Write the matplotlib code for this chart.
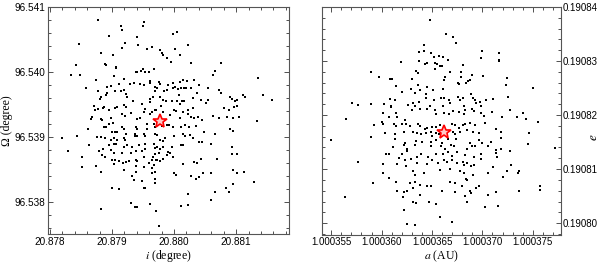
import matplotlib
matplotlib.use('Agg')
import matplotlib.pyplot as plt
from matplotlib.ticker import MultipleLocator, FormatStrFormatter
import numpy as np

plt.rcParams['mathtext.fontset'] = 'stix'

# left panel: inclination i and node Omega (degree)
# i = 20.878 + i_off * 1e-5
i_off = [78, 114, 116, 151, 150, 95, 198, 205, 47, 121,
         141, 142, 164, 157, 177, 180, 182, 201, 222, 116,
         83, 102, 209, 189, 195, 228, 276, 89, 91, 106,
         107, 42, 150, 34, 49, 138, 141, 147, 154, 159,
         167, 266, 263, 104, 120, 74, 336, 58, 92, 98,
         111, 129, 136, 145, 151, 161, 162, 175, 178, 190,
         199, 209, 215, 221, 232, 227, 240, 255, 273, 78,
         92, 90, 105, 114, 119, 122, 125, 169, 172, 170,
         184, 188, 198, 202, 207, 212, 216, 220, 208, 230,
         237, 255, 276, 290, 294, 298, 301, 315, 311, 343,
         357, 80, 83, 71, 72, 77, 85, 88, 96, 105,
         108, 119, 123, 134, 149, 161, 162, 166, 177, 182,
         187, 197, 205, 209, 213, 216, 222, 230, 243, 252,
         281, 289, 296, 302, 295, 305, 333, 66, 68, 61,
         82, 84, 99, 96, 101, 116, 121, 130, 140, 145,
         152, 154, 161, 164, 169, 171, 179, 182, 193, 200,
         203, 210, 215, 222, 227, 232, 238, 245, 263, 272,
         285, 88, 91, 100, 105, 108, 116, 119, 122, 138,
         141, 156, 157, 167, 169, 172, 180, 188, 192, 199,
         212, 217, 224, 235, 225, 248, 266, 290, 295, 20,
         43, 63, 76, 83, 89, 99, 103, 108, 119, 121,
         137, 137, 141, 152, 153, 169, 172, 177, 182, 186,
         200, 214, 218, 230, 240, 245, 260, 51, 51, 30,
         79, 86, 95, 99, 103, 107, 119, 125, 133, 144,
         154, 154, 167, 169, 173, 177, 183, 190, 196, 212,
         215, 188, 193, 170, 176, 166, 149, 138, 131, 116,
         104, 84, 89, 100, 105, 111, 118, 123, 128, 138,
         141, 151, 164, 167, 171, 173, 182, 177, 199, 214,
         232, 237, 243, 270, 294, 293, 302, 75, 103, 119,
         138, 139, 152, 160, 164, 165, 169, 200, 203, 228,
         235, 240, 247, 260, 295, 302, 312, 328, 83, 133,
         136, 148, 169, 100, 112, 152, 153, 169, 266, 289,
         284, 295, 223, 259, 83, 130, 137, 141, 162, 171,
         212, 222, 175]
node = [96.54080, 96.54071, 96.54064, 96.54077, 96.54071, 96.54056, 96.54058, 96.54061, 96.54043, 96.54044,
        96.54054, 96.54042, 96.54038, 96.54036, 96.54034, 96.54029, 96.54026, 96.54036, 96.54042, 96.54037,
        96.54029, 96.54026, 96.54026, 96.54021, 96.54016, 96.54014, 96.54014, 96.54012, 96.54011, 96.54008,
        96.54006, 96.54010, 96.54005, 96.53996, 96.53995, 96.54000, 96.54000, 96.54001, 96.54000, 96.54000,
        96.54004, 96.54001, 96.53996, 96.53994, 96.53989, 96.53988, 96.53991, 96.53976, 96.53977, 96.53979,
        96.53982, 96.53981, 96.53983, 96.53981, 96.53980, 96.53986, 96.53983, 96.53985, 96.53982, 96.53980,
        96.53983, 96.53985, 96.53988, 96.53986, 96.53988, 96.53975, 96.53980, 96.53975, 96.53972, 96.53971,
        96.53968, 96.53965, 96.53970, 96.53971, 96.53973, 96.53966, 96.53962, 96.53977, 96.53975, 96.53971,
        96.53971, 96.53973, 96.53975, 96.53977, 96.53974, 96.53975, 96.53975, 96.53975, 96.53965, 96.53960,
        96.53968, 96.53957, 96.53967, 96.53962, 96.53959, 96.53955, 96.53957, 96.53962, 96.53964, 96.53964,
        96.53957, 96.53958, 96.53961, 96.53948, 96.53942, 96.53943, 96.53944, 96.53946, 96.53942, 96.53944,
        96.53946, 96.53949, 96.53946, 96.53956, 96.53951, 96.53954, 96.53959, 96.53961, 96.53962, 96.53957,
        96.53956, 96.53956, 96.53955, 96.53951, 96.53956, 96.53955, 96.53942, 96.53945, 96.53957, 96.53952,
        96.53944, 96.53942, 96.53946, 96.53948, 96.53930, 96.53931, 96.53924, 96.53928, 96.53931, 96.53913,
        96.53928, 96.53926, 96.53930, 96.53920, 96.53921, 96.53936, 96.53932, 96.53937, 96.53928, 96.53930,
        96.53939, 96.53943, 96.53936, 96.53939, 96.53942, 96.53942, 96.53947, 96.53938, 96.53934, 96.53942,
        96.53940, 96.53929, 96.53939, 96.53936, 96.53931, 96.53929, 96.53931, 96.53926, 96.53933, 96.53929,
        96.53931, 96.53916, 96.53916, 96.53908, 96.53908, 96.53907, 96.53916, 96.53912, 96.53905, 96.53916,
        96.53913, 96.53920, 96.53913, 96.53920, 96.53915, 96.53922, 96.53917, 96.53918, 96.53918, 96.53915,
        96.53916, 96.53918, 96.53916, 96.53917, 96.53903, 96.53908, 96.53904, 96.53913, 96.53909, 96.53898,
        96.53902, 96.53887, 96.53900, 96.53900, 96.53899, 96.53895, 96.53899, 96.53896, 96.53899, 96.53896,
        96.53905, 96.53901, 96.53901, 96.53904, 96.53901, 96.53905, 96.53903, 96.53895, 96.53894, 96.53899,
        96.53901, 96.53905, 96.53901, 96.53898, 96.53893, 96.53893, 96.53890, 96.53870, 96.53854, 96.53878,
        96.53879, 96.53882, 96.53887, 96.53880, 96.53889, 96.53889, 96.53885, 96.53887, 96.53884, 96.53887,
        96.53889, 96.53881, 96.53890, 96.53883, 96.53884, 96.53882, 96.53885, 96.53877, 96.53885, 96.53887,
        96.53888, 96.53872, 96.53875, 96.53874, 96.53875, 96.53870, 96.53879, 96.53879, 96.53875, 96.53875,
        96.53876, 96.53872, 96.53870, 96.53864, 96.53864, 96.53863, 96.53860, 96.53862, 96.53863, 96.53865,
        96.53863, 96.53870, 96.53865, 96.53857, 96.53865, 96.53864, 96.53867, 96.53863, 96.53870, 96.53858,
        96.53862, 96.53860, 96.53866, 96.53866, 96.53885, 96.53874, 96.53874, 96.53855, 96.53858, 96.53850,
        96.53856, 96.53847, 96.53854, 96.53860, 96.53853, 96.53845, 96.53847, 96.53844, 96.53842, 96.53840,
        96.53836, 96.53839, 96.53844, 96.53844, 96.53850, 96.53845, 96.53847, 96.53831, 96.53846, 96.53840,
        96.53834, 96.53833, 96.53836, 96.53821, 96.53820, 96.53822, 96.53821, 96.53830, 96.53816, 96.53815,
        96.53822, 96.53828, 96.53812, 96.53804, 96.53789, 96.53798, 96.53792, 96.53792, 96.53797, 96.53786,
        96.53794, 96.53795, 96.53764]
nominal_left = (178, 96.53925)

# right panel: semi-major axis a (AU) and eccentricity e
# a = 1.000355 + a_off * 1e-7 ; e = 0.19080 + e_off * 1e-7
a_off = [98, 114, 121, 124, 92, 87, 92, 99, 102, 107, 111, 116, 69, 87, 93, 95, 103, 105, 108, 110,
         150, 149, 166, 166, 166, 131, 39, 47, 84, 86, 103, 118, 129, 129, 113, 112, 140, 138, 58, 60,
         80, 95, 101, 64, 79, 86, 88, 111, 126, 127, 134, 136, 151, 174, 173, 200, 94, 83, 70, 63,
         58, 59, 21, 27, 39, 52, 76, 81, 83, 87, 94, 102, 109, 112, 98, 117, 118, 126, 128, 131,
         132, 139, 141, 143, 144, 148, 154, 161, 149, 175, 177, 184, 190, 193, 205, 59, 51, 57, 64, 65,
         80, 88, 95, 103, 111, 104, 112, 117, 121, 127, 133, 132, 140, 142, 149, 152, 160, 169, 15, 42,
         50, 51, 62, 64, 70, 73, 74, 78, 86, 88, 93, 95, 100, 104, 108, 120, 123, 127, 131, 133,
         138, 143, 153, 163, 81, 72, 63, 53, 85, 89, 94, 99, 100, 104, 107, 121, 123, 128, 135, 141,
         147, 168, 196, 0, 39, 63, 73, 84, 90, 99, 104, 110, 116, 124, 138, 147, 159, 168, 195, 222,
         61, 72, 75, 83, 99, 109, 113, 119, 122, 135, 140, 143, 150, 156, 163, 168, 54, 57, 70, 75,
         89, 96, 104, 111, 116, 120, 125, 133, 142, 149, 163, 164, 177, 67, 73, 79, 85, 100, 112, 120,
         131, 132, 135, 142, 149, 27, 51, 65, 74, 85, 95, 106, 115, 125, 139, 161, 178, 186, 185, 174,
         51, 81, 83, 92, 108, 118, 128, 132, 141, 156, 170, 57, 64, 78, 83, 88, 95, 99, 118, 123,
         134, 135, 147, 41, 207, 207, 65, 75, 81, 130, 123, 138, 139, 144, 156, 163, 186, 71, 72, 88,
         110, 133, 14, 81, 84, 97, 104, 135, 72, 153, 165, 108, 75, 83, 120]
e_off = [375, 349, 344, 333, 329, 317, 318, 315, 307, 310, 307, 302, 298, 300, 295, 297, 297, 294, 290, 290,
         319, 305, 315, 302, 299, 293, 279, 271, 281, 278, 285, 279, 279, 271, 270, 264, 274, 264, 267, 267,
         267, 252, 247, 253, 249, 255, 247, 248, 259, 257, 260, 263, 273, 268, 256, 250, 239, 241, 242, 228,
         230, 217, 222, 218, 221, 220, 218, 223, 216, 225, 231, 227, 231, 231, 216, 228, 222, 234, 228, 231,
         217, 238, 231, 228, 222, 225, 228, 230, 217, 233, 210, 196, 204, 193, 187, 214, 204, 196, 204, 196,
         210, 212, 212, 210, 216, 202, 204, 202, 207, 206, 209, 201, 211, 207, 203, 198, 205, 197, 193, 181,
         188, 184, 183, 179, 184, 190, 184, 180, 184, 179, 175, 176, 177, 178, 182, 183, 181, 176, 182, 184,
         186, 181, 185, 175, 168, 168, 164, 167, 167, 165, 167, 168, 161, 167, 164, 168, 164, 168, 172, 169,
         167, 168, 167, 154, 160, 155, 148, 152, 151, 151, 154, 149, 155, 156, 149, 153, 151, 157, 146, 139,
         140, 144, 138, 144, 143, 142, 138, 145, 142, 138, 143, 142, 149, 142, 136, 138, 128, 128, 128, 133,
         128, 123, 128, 128, 131, 125, 131, 126, 123, 128, 130, 123, 134, 120, 116, 118, 123, 117, 117, 116,
         114, 107, 111, 107, 118, 113, 109, 110, 105, 112, 110, 112, 113, 112, 105, 103, 107, 96, 93, 97,
         93, 97, 89, 93, 99, 100, 97, 93, 89, 93, 86, 83, 77, 74, 77, 71, 69, 69, 76, 75,
         81, 79, 68, 74, 68, 62, 60, 59, 65, 69, 57, 59, 56, 65, 52, 57, 60, 49, 57, 52,
         59, 51, 48, 39, 37, 40, 36, 39, 25, 30, 31, 11, -1, -4, 3]
nominal_right = (112, 168)

incl = 20.878 + np.array(i_off) * 1e-5
star_i = 20.878 + nominal_left[0] * 1e-5
a_au = 1.000355 + np.array(a_off) * 1e-7
ecc = 0.19080 + np.array(e_off) * 1e-7
star_a = 1.000355 + nominal_right[0] * 1e-7
star_e = 0.19080 + nominal_right[1] * 1e-7

tick_font = 'Liberation Sans'
label_font = 'Liberation Serif'

fig = plt.figure(figsize=(6.0, 2.65), dpi=100)
ax1 = fig.add_axes([0.080, 0.117, 0.402, 0.857])
ax2 = fig.add_axes([0.537, 0.113, 0.398, 0.861])

def style(ax):
    ax.tick_params(which='both', direction='in', top=True, right=True,
                   colors='#333333', width=0.6, labelcolor='black', labelsize=7.2, pad=2)
    ax.tick_params(which='major', length=3.5)
    ax.tick_params(which='minor', length=2)
    for s in ax.spines.values():
        s.set_linewidth(0.8)
        s.set_color('#555555')
    for lab in ax.get_xticklabels() + ax.get_yticklabels():
        lab.set_fontfamily(tick_font)

ax1.scatter(incl, node, s=4.5, marker='s', c='black', linewidths=0)
ax1.plot(star_i, nominal_left[1], marker='*', ms=10.5, mfc='#ffc8c8', mec='red', mew=1.2, ls='none')
ax1.set_xlim(20.87797, 20.881855)
ax1.set_ylim(96.53751, 96.541)
ax1.xaxis.set_major_locator(MultipleLocator(0.001))
ax1.xaxis.set_minor_locator(MultipleLocator(0.0002))
ax1.yaxis.set_major_locator(MultipleLocator(0.001))
ax1.yaxis.set_minor_locator(MultipleLocator(0.0002))
ax1.xaxis.set_major_formatter(FormatStrFormatter('%.3f'))
ax1.yaxis.set_major_formatter(FormatStrFormatter('%.3f'))
ax1.set_xlabel(r'$i$ (degree)', family=label_font, fontsize=8.5, labelpad=1)
ax1.set_ylabel('Ω (degree)', family=label_font, fontsize=8.5, labelpad=1)
style(ax1)

ax2.scatter(a_au, ecc, s=4.5, marker='s', c='black', linewidths=0)
ax2.plot(star_a, star_e, marker='*', ms=10.5, mfc='#ffc8c8', mec='red', mew=1.2, ls='none')
ax2.set_xlim(1.0003541, 1.0003778)
ax2.set_ylim(0.1907978, 0.19084)
ax2.xaxis.set_major_locator(MultipleLocator(5e-6))
ax2.xaxis.set_minor_locator(MultipleLocator(1e-6))
ax2.yaxis.set_major_locator(MultipleLocator(1e-5))
ax2.yaxis.set_minor_locator(MultipleLocator(2e-6))
ax2.xaxis.set_major_formatter(FormatStrFormatter('%.6f'))
ax2.yaxis.set_major_formatter(FormatStrFormatter('%.5f'))
ax2.yaxis.tick_right()
ax2.yaxis.set_label_position('right')
ax2.set_xlabel(r'$a$ (AU)', family=label_font, fontsize=8.5, labelpad=1)
ax2.set_ylabel(r'$e$', family=label_font, fontsize=9.5, rotation=90)
ax2.yaxis.set_label_coords(1.115, 0.43)
style(ax2)
ax2.tick_params(which='both', left=True, labelleft=False, labelright=True, labelsize=7, pad=1.5)

fig.savefig('out.png', dpi=100)
